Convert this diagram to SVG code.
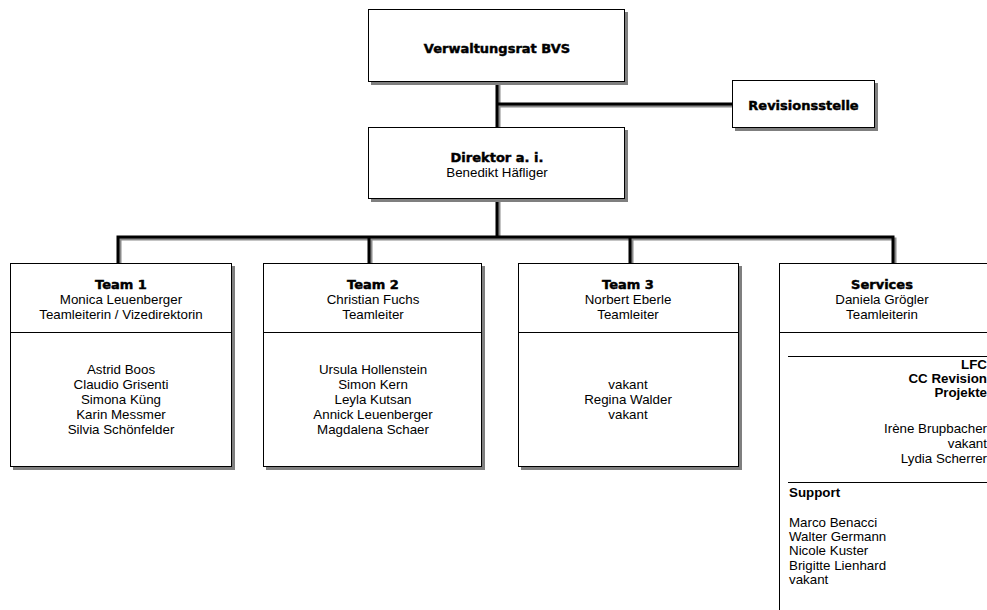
<svg xmlns="http://www.w3.org/2000/svg" width="987" height="610" viewBox="0 0 987 610">
<style>
.box{fill:#fff;stroke:#000;stroke-width:1}
.sh{fill:#7f7f7f}
.div{stroke:#000;stroke-width:1}
.t{font-family:"DejaVu Sans","Liberation Sans",sans-serif;font-weight:bold;font-size:13px;text-anchor:middle;fill:#000;stroke:#000;stroke-width:0.45}
.n{font-family:"Liberation Sans",Arial,sans-serif;font-size:13.33px;text-anchor:middle;fill:#000}
.b{font-family:"Liberation Sans",Arial,sans-serif;font-size:13.33px;font-weight:bold;fill:#000}
.l{font-family:"Liberation Sans",Arial,sans-serif;font-size:13.33px;fill:#000}
.c{fill:none;stroke:#000;stroke-width:3;stroke-linejoin:miter}
.cs{fill:none;stroke:#8a8a8a;stroke-width:3}
</style>
<rect width="987" height="610" fill="#fff"/>
<g id="connectors">
<path class="cs" d="M499 84V128M499 106H734M499 201V239M120 265V239H895V265M371 239V265M632 239V265"/>
<path class="c" d="M497 82V127M497 104H733M497 199V237M118 263V237H893V263M369 237V263M630 237V263"/>
</g>
<g id="verwaltungsrat">
<rect class="sh" x="371" y="12" width="257" height="73"/>
<rect class="box" x="368.5" y="9.5" width="256" height="72"/>
<text class="t" x="497" y="53">Verwaltungsrat BVS</text>
</g>
<g id="revisionsstelle">
<rect class="sh" x="735" y="83" width="143" height="48"/>
<rect class="box" x="732.5" y="80.5" width="142" height="47"/>
<text class="t" x="803.5" y="110">Revisionsstelle</text>
</g>
<g id="direktor">
<rect class="sh" x="371" y="130" width="257" height="72"/>
<rect class="box" x="368.5" y="127.5" width="256" height="71"/>
<text class="t" x="497" y="162">Direktor a. i.</text>
<text class="n" x="497" y="177">Benedikt Häfliger</text>
</g>
<g id="team1">
<rect class="sh" x="13" y="266" width="222" height="204"/>
<rect class="box" x="10.5" y="263.5" width="221" height="203"/>
<line class="div" x1="10.5" y1="332.5" x2="231.5" y2="332.5"/>
<text class="t" x="121" y="289">Team 1</text>
<text class="n" x="121" y="304">Monica Leuenberger</text>
<text class="n" x="121" y="319">Teamleiterin / Vizedirektorin</text>
<text class="n" x="121" y="374">Astrid Boos</text>
<text class="n" x="121" y="389">Claudio Grisenti</text>
<text class="n" x="121" y="404">Simona Küng</text>
<text class="n" x="121" y="419">Karin Messmer</text>
<text class="n" x="121" y="434">Silvia Schönfelder</text>
</g>
<g id="team2">
<rect class="sh" x="266" y="266" width="219" height="204"/>
<rect class="box" x="263.5" y="263.5" width="218" height="203"/>
<line class="div" x1="263.5" y1="332.5" x2="481.5" y2="332.5"/>
<text class="t" x="373" y="289">Team 2</text>
<text class="n" x="373" y="304">Christian Fuchs</text>
<text class="n" x="373" y="319">Teamleiter</text>
<text class="n" x="373" y="374">Ursula Hollenstein</text>
<text class="n" x="373" y="389">Simon Kern</text>
<text class="n" x="373" y="404">Leyla Kutsan</text>
<text class="n" x="373" y="419">Annick Leuenberger</text>
<text class="n" x="373" y="434">Magdalena Schaer</text>
</g>
<g id="team3">
<rect class="sh" x="521" y="266" width="221" height="204"/>
<rect class="box" x="518.5" y="263.5" width="220" height="203"/>
<line class="div" x1="518.5" y1="332.5" x2="738.5" y2="332.5"/>
<text class="t" x="628" y="289">Team 3</text>
<text class="n" x="628" y="304">Norbert Eberle</text>
<text class="n" x="628" y="319">Teamleiter</text>
<text class="n" x="628" y="389">vakant</text>
<text class="n" x="628" y="404">Regina Walder</text>
<text class="n" x="628" y="419">vakant</text>
</g>
<g id="services">
<rect class="box" x="779.5" y="263.5" width="230" height="360"/>
<line class="div" x1="779.5" y1="332.5" x2="990" y2="332.5"/>
<text class="t" x="882" y="289">Services</text>
<text class="n" x="882" y="304">Daniela Grögler</text>
<text class="n" x="882" y="319">Teamleiterin</text>
<line class="div" x1="788" y1="356.5" x2="990" y2="356.5"/>
<text class="b" x="987" y="369" text-anchor="end">LFC</text>
<text class="b" x="987" y="383" text-anchor="end">CC Revision</text>
<text class="b" x="987" y="397" text-anchor="end">Projekte</text>
<text class="l" x="987" y="433" text-anchor="end">Irène Brupbacher</text>
<text class="l" x="987" y="448" text-anchor="end">vakant</text>
<text class="l" x="987" y="463" text-anchor="end">Lydia Scherrer</text>
<line class="div" x1="788" y1="482.5" x2="990" y2="482.5"/>
<text class="b" x="789" y="497">Support</text>
<text class="l" x="789" y="527">Marco Benacci</text>
<text class="l" x="789" y="541">Walter Germann</text>
<text class="l" x="789" y="555">Nicole Kuster</text>
<text class="l" x="789" y="570">Brigitte Lienhard</text>
<text class="l" x="789" y="584">vakant</text>
</g>
</svg>
